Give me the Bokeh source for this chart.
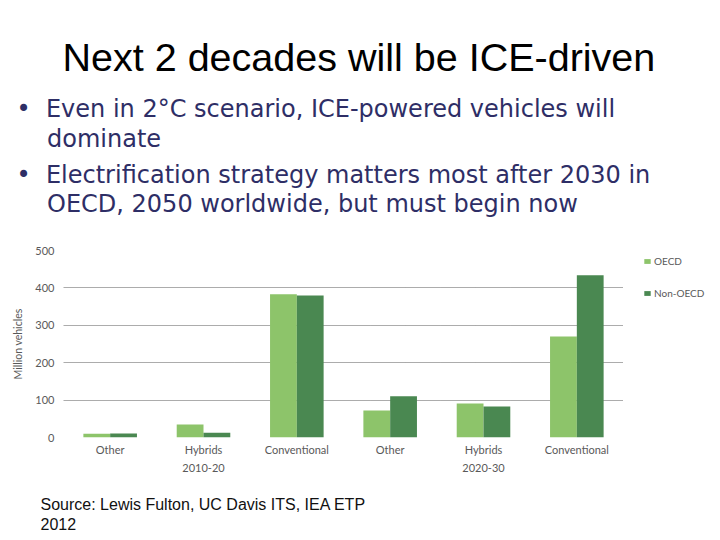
from bokeh.plotting import figure
from bokeh.models import (ColumnDataSource, FactorRange, Range1d, Legend, LegendItem,
                          FixedTicker, Title)
from bokeh.transform import dodge
from bokeh.embed import file_html
from bokeh.resources import INLINE

# ---------------- data ----------------
periods = ["2010-20", "2010-20", "2010-20", "2020-30", "2020-30", "2020-30"]
vehicle_types = ["Other", "Hybrids", "Conventional", "Other", "Hybrids", "Conventional"]
oecd = [10, 35, 383, 72, 91, 270]
non_oecd = [11, 13, 380, 110, 83, 434]
y_ticks = [0, 100, 200, 300, 400, 500]
series_names = ["OECD", "Non-OECD"]

title_text = "Next 2 decades will be ICE-driven"
NB = "\u00a0"
bullet_1 = ["Even in 2°C scenario, ICE-powered vehicles will", "dominate"]
bullet_2 = ["Electrification strategy matters most after 2030 in",
            "OECD, 2050 worldwide, but must begin now"]
source_lines = ["Source: Lewis Fulton, UC Davis ITS, IEA ETP", "2012"]

OECD_COLOR = "#8DC46A"
NON_COLOR = "#4A8851"
AXIS_TXT = "#595959"
BULLET_TXT = "#2E2E66"

# ---------------- chart ----------------
factors = list(zip(periods, vehicle_types))
src = ColumnDataSource(dict(x=factors, oecd=oecd, non=non_oecd))

p = figure(x_range=FactorRange(factors=factors, range_padding=0, group_padding=0),
           y_range=Range1d(0, 500), frame_width=560, frame_height=187,
           min_border_left=63, min_border_right=89, min_border_top=250, min_border_bottom=95,
           output_backend="svg", toolbar_location=None, outline_line_color=None)

bw = 0.287
r1 = p.vbar(x=dodge("x", -bw / 2, range=p.x_range), top="oecd", width=bw, source=src,
            fill_color=OECD_COLOR, line_color=None)
r2 = p.vbar(x=dodge("x", bw / 2, range=p.x_range), top="non", width=bw, source=src,
            fill_color=NON_COLOR, line_color=None)

p.xgrid.visible = False
p.ygrid.ticker = FixedTicker(ticks=y_ticks[1:])
p.ygrid.grid_line_color = "#595959"
p.ygrid.grid_line_dash = "1 1"
p.ygrid.grid_line_width = 1

p.yaxis.ticker = FixedTicker(ticks=y_ticks)
p.yaxis.axis_line_color = None
p.yaxis.major_tick_line_color = None
p.yaxis.major_tick_out = 0
p.yaxis.major_tick_in = 0
p.yaxis.minor_tick_line_color = None
p.yaxis.major_label_text_font = "Lato"
p.yaxis.major_label_text_font_size = "11px"
p.yaxis.major_label_text_color = AXIS_TXT
p.yaxis.major_label_standoff = 9
p.yaxis.axis_label = "Million vehicles"
p.yaxis.axis_label_text_font = "Lato"
p.yaxis.axis_label_text_font_size = "10.5px"
p.yaxis.axis_label_text_font_style = "normal"
p.yaxis.axis_label_text_color = AXIS_TXT
p.yaxis.axis_label_standoff = 8

p.xaxis.axis_line_color = None
p.xaxis.major_tick_line_color = None
p.xaxis.major_tick_out = 0
p.xaxis.major_tick_in = 0
p.xaxis.minor_tick_line_color = None
p.xaxis.major_label_text_font = "Lato"
p.xaxis.major_label_text_font_size = "11px"
p.xaxis.major_label_text_color = AXIS_TXT
p.xaxis.major_label_standoff = 5
p.xaxis.group_text_font = "Lato"
p.xaxis.group_text_font_size = "11px"
p.xaxis.group_text_font_style = "normal"
p.xaxis.group_text_color = AXIS_TXT
p.xaxis.separator_line_alpha = 0

legend = Legend(items=[LegendItem(label=series_names[0], renderers=[r1]),
                       LegendItem(label=series_names[1], renderers=[r2])],
                location=(20, 138), border_line_color=None, background_fill_alpha=0,
                glyph_width=8, glyph_height=6, label_standoff=3, label_height=12,
                label_text_font="Lato", label_text_font_size="10px",
                label_text_color=AXIS_TXT, spacing=20, padding=0, margin=0)
p.add_layout(legend, "right")

# ---------------- header texts (stacked above the frame, nearest first) ----------------
def side_title(text, font, size, color, offset, standoff, valign="bottom", lh=1.2):
    return Title(text=text, text_font=font, text_font_size=size, text_color=color,
                 text_font_style="normal", align="left", offset=offset, standoff=standoff,
                 vertical_align=valign, text_line_height=lh)

BUL = "•" + NB * 2
IND = NB * 4
# spacer between frame and the bullets
p.add_layout(side_title(NB, "Liberation Sans", "1px", "#ffffff", 0, 29), "above")
p.add_layout(side_title(BUL + bullet_2[0] + "\n" + IND + bullet_2[1],
                        "DejaVu Sans", "24px", BULLET_TXT, -47, 0, lh=1.07), "above")
p.add_layout(side_title(BUL + bullet_1[0] + "\n" + IND + bullet_1[1],
                        "DejaVu Sans", "24px", BULLET_TXT, -47, 11, lh=1.07), "above")
p.add_layout(side_title(title_text, "Liberation Sans", "39.5px", "#000000", -1, 17), "above")

# ---------------- footer (spacer below the axis, then the source) ----------------
p.add_layout(side_title(NB, "Liberation Sans", "1px", "#ffffff", 0, 18, valign="top"), "below")
p.add_layout(side_title(source_lines[0] + "\n" + source_lines[1], "Liberation Sans", "16px",
                        "#111111", -23, 0, valign="top", lh=1.22), "below")

open("out.html", "w").write(file_html(p, INLINE))
